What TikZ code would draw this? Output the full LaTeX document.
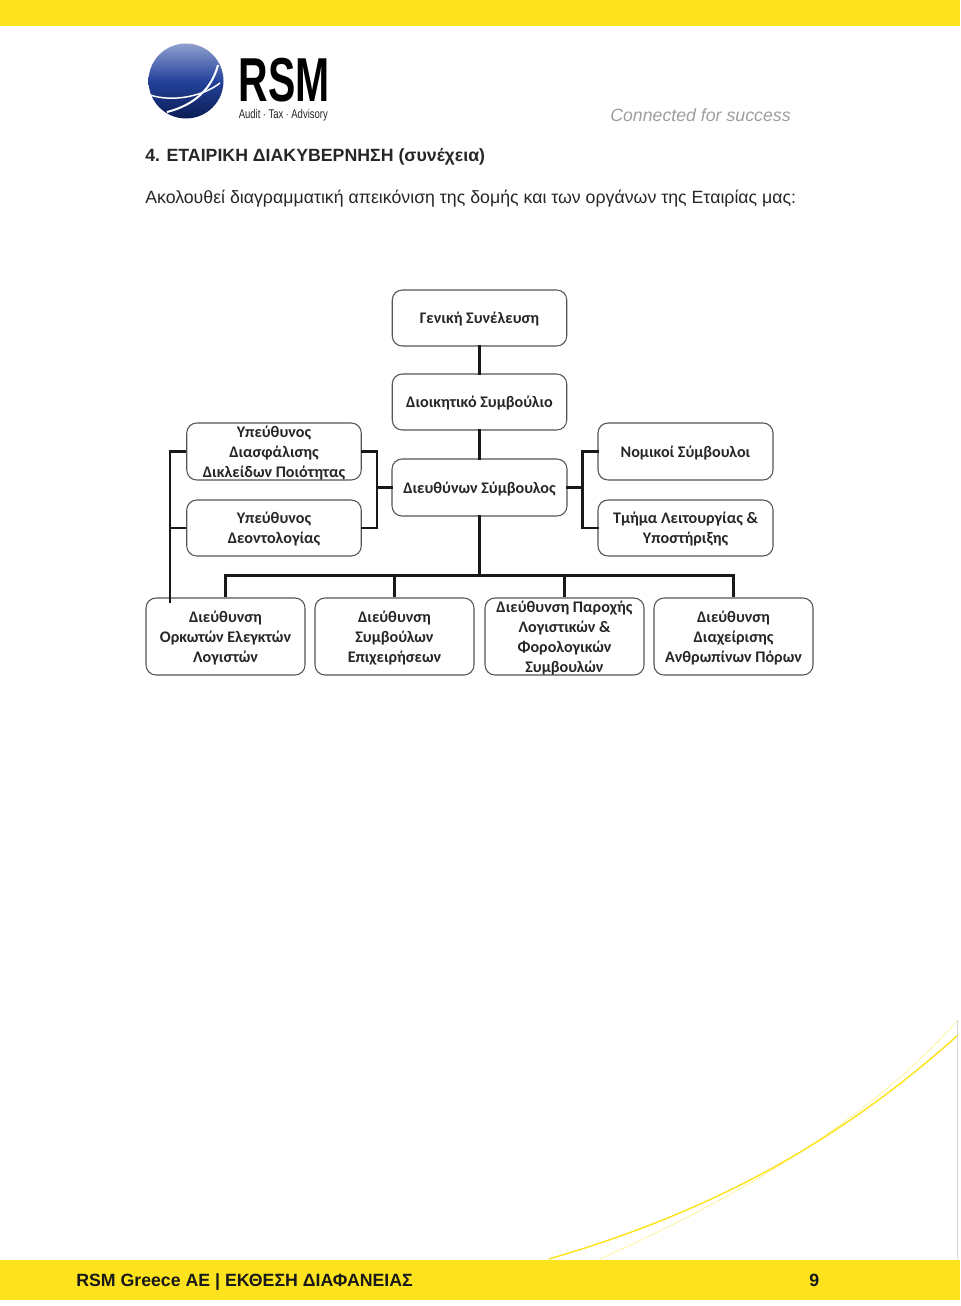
\documentclass[tikz,border=0pt]{standalone}
\usepackage{fontspec}
\setmainfont{Liberation Sans}
\newfontfamily\boxfont{Carlito}[BoldFont={Carlito Bold}]
\usetikzlibrary{calc}
\definecolor{rsmyellow}{HTML}{FCE31E}
\definecolor{boxline}{HTML}{555555}
\definecolor{globetop}{HTML}{8FA0CF}
\definecolor{globemid}{HTML}{24429B}
\definecolor{globelow}{HTML}{0A1C55}
\tikzset{
  orgbox/.style={draw=boxline,line width=0.8pt,rounded corners=7.5pt,fill=white,inner sep=0pt,
    align=center,font=\boxfont\bfseries\fontsize{12.1}{15}\selectfont,text=black!85},
  link/.style={line width=1.6pt,draw=black!90,line cap=rect},
  drop/.style={line width=1.6pt,draw=black!90,line cap=butt},
  plain/.style={inner sep=0pt,anchor=base west},
  band/.style={fill=rsmyellow,draw=none},
  swoosh/.style={draw=rsmyellow,line cap=round},
}
\newcommand{\orgnode}[6]{\node[orgbox,minimum width=#4*0.75pt,minimum height=#5*0.75pt] (#1) at (#2,#3) {\raisebox{-1pt}[\height][\depth]{\parbox{115pt}{\centering #6}}};}
\begin{document}
\begin{tikzpicture}[x=0.75pt,y=-0.75pt]
\useasboundingbox (0,0) rectangle (960,1306);
% bands
\fill[band] (0,0) rectangle (960,26);
\fill[band] (0,1260) rectangle (960,1299.5);
% swooshes
\draw[swoosh,line width=1.1pt] (549,1259) .. controls (700,1215) and (830,1150) .. (958,1035);
\draw[swoosh,line width=.5pt,opacity=.5] (600,1259) .. controls (720,1205) and (860,1130) .. (958,1020);
\draw[black!15,line width=.5pt] (957.5,1020) -- (957.5,1259);
% logo
\shade[top color=globetop,bottom color=globelow,middle color=globemid] (186,81) circle (37.5);
\draw[white,line width=1.1pt] (150,95) .. controls (175,103) and (205,95) .. (220,83);
\draw[white,line width=1.5pt] (167,112) .. controls (195,105) and (212,88) .. (218,65);
\node[plain,font=\bfseries] (rsm) at (238.5,102) {\scalebox{0.64}[0.97]{\fontsize{48}{48}\selectfont RSM}};
\node[plain,text=black!85] (tag) at (238.5,118) {\scalebox{0.68}[0.9]{\fontsize{10.5}{12}\selectfont Audit $\cdot$ Tax $\cdot$ Advisory}};
% header texts
\node[plain,text=black!38,font=\fontsize{13.3}{15}\selectfont\itshape] (motto) at (610,122) {Connected for success};
\node[plain,font=\fontsize{13.3}{15}\selectfont\bfseries,text=black!85] (title) at (145,161.5) {4. ΕΤΑΙΡΙΚΗ ΔΙΑΚΥΒΕΡΝΗΣΗ (συνέχεια)};
\node[plain,font=\fontsize{13.3}{15}\selectfont,text=black!85] (intro) at (145,203) {Ακολουθεί διαγραμματική απεικόνιση της δομής και των οργάνων της Εταιρίας μας:};
% footer texts
\node[plain,font=\fontsize{13.3}{15}\selectfont\bfseries,text=black!90] (foot) at (76,1286) {RSM Greece AE | ΕΚΘΕΣΗ ΔΙΑΦΑΝΕΙΑΣ};
\node[plain,font=\fontsize{13.3}{15}\selectfont\bfseries,text=black!90] (page) at (809,1286) {9};
% boxes
\orgnode{gs}{479.5}{318}{174.5}{56}{Γενική Συνέλευση}
\orgnode{ds}{479.5}{402}{174.5}{56}{Διοικητικό Συμβούλιο}
\orgnode{ce}{479.5}{487.5}{175}{57}{Διευθύνων Σύμβουλος}
\orgnode{qa}{274}{451.5}{174.5}{57}{Υπεύθυνος\\Διασφάλισης\\Δικλείδων Ποιότητας}
\orgnode{et}{274}{528}{174.5}{56}{Υπεύθυνος\\Δεοντολογίας}
\orgnode{nm}{685.5}{451.5}{175}{57}{Νομικοί Σύμβουλοι}
\orgnode{op}{685.5}{528}{175}{56}{Τμήμα Λειτουργίας \&\\Υποστήριξης}
\orgnode{d1}{225.5}{636.5}{159}{77}{Διεύθυνση\\Ορκωτών Ελεγκτών\\Λογιστών}
\orgnode{d2}{394.5}{636.5}{159}{77}{Διεύθυνση\\Συμβούλων\\Επιχειρήσεων}
\orgnode{d3}{564.5}{636.5}{159}{77}{Διεύθυνση Παροχής\\Λογιστικών \&\\Φορολογικών\\Συμβουλών}
\orgnode{d4}{733.5}{636.5}{159}{77}{Διεύθυνση\\Διαχείρισης\\Ανθρωπίνων Πόρων}
% connectors
\coordinate (bus) at (ce.south |- 0,575.5);
\coordinate (busL) at (d1.north |- bus);
\coordinate (busR) at (d4.north |- bus);
\coordinate (lbk) at (377,487.5);
\coordinate (rbk) at (582.5,487.5);
\coordinate (far) at (170,603);
\draw[link] (gs.south) -- (ds.north);
\draw[link] (ds.south) -- (ce.north);
\draw[link,line width=2.1pt] (ce.south) -- (bus);
\draw[link] (busL) -- (busR);
\draw[drop] (busL) -- (d1.north);
\draw[drop] (d2.north |- bus) -- (d2.north);
\draw[drop] (d3.north |- bus) -- (d3.north);
\draw[drop] (busR) -- (d4.north);
\draw[link] (qa.east) -| (lbk) |- (et.east);
\draw[link] (lbk) -- (ce.west);
\draw[link] (ce.east) -- (rbk);
\draw[link] (nm.west) -| (rbk) |- (op.west);
\draw[drop] (qa.west) -| (far);
\draw[drop] (et.west) -- (far |- et.west);
\end{tikzpicture}
\end{document}
